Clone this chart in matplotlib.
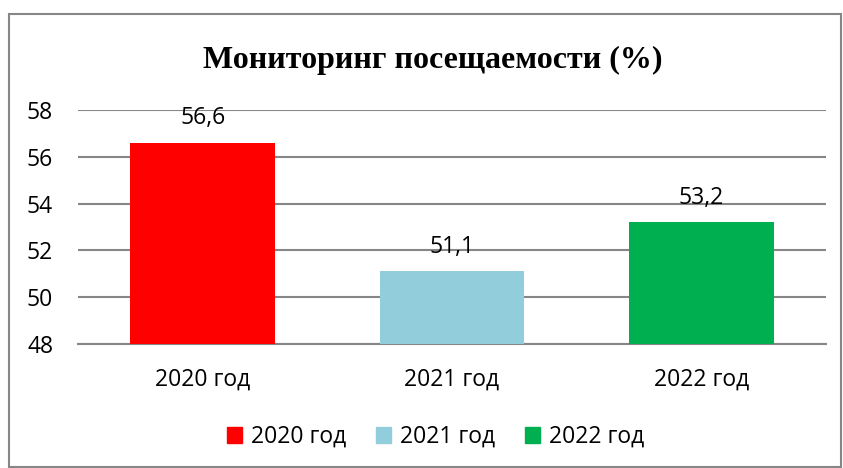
import matplotlib.pyplot as plt
from matplotlib.patches import Rectangle, Patch

# данные мониторинга посещаемости
years = ['2020 год', '2021 год', '2022 год']
values = [56.6, 51.1, 53.2]
labels = ['56,6', '51,1', '53,2']
colors = ['#FF0000', '#92CDDC', '#00B050']
yticks = [48, 50, 52, 54, 56, 58]

W, H = 843, 468
fig = plt.figure(figsize=(W / 100, H / 100), dpi=100, facecolor='w')
ax = fig.add_axes([78 / W, 1 - 344 / H, (826 - 78) / W, (344 - 110) / H])

font = 'Open Sans'
fs = 16.5

x = range(len(years))
ax.bar(x, [v - 48 for v in values], bottom=48, width=0.58, color=colors, zorder=3)
for xi, v, lab in zip(x, values, labels):
    ax.annotate(lab, (xi, v), xytext=(0, 9), textcoords='offset points',
                ha='center', va='bottom', fontsize=fs, family=font)

ax.set_xlim(-0.5, 2.5)
ax.set_ylim(48, 58)
ax.set_yticks(yticks)
ax.set_yticklabels([str(t) for t in yticks], fontsize=fs, family=font)
ax.set_xticks(list(x))
ax.set_xticklabels(years, fontsize=fs, family=font)
ax.tick_params(length=0)
ax.tick_params(axis='x', pad=17)
ax.tick_params(axis='y', pad=18)
ax.grid(axis='y', color='#868686', linewidth=1.5, zorder=0)
for s in ['top', 'right', 'left']:
    ax.spines[s].set_visible(False)
ax.spines['bottom'].set_color('#868686')
ax.spines['bottom'].set_linewidth(1.5)

fig.text(433 / W, 1 - 60 / H, 'Мониторинг посещаемости (%)', ha='center', va='center',
         fontsize=23, fontweight='bold', family='Liberation Serif')

handles = [Patch(color=c) for c in colors]
fig.legend(handles, years, loc='center', bbox_to_anchor=(436 / W, 1 - 437 / H), ncol=3,
           frameon=False, prop={'family': font, 'size': fs}, handlelength=0.65,
           handleheight=0.65, handletextpad=0.4, columnspacing=1.3)

fig.patches.append(Rectangle((9 / W, 1 - 467 / H), (841 - 9) / W, (467 - 14) / H,
                             transform=fig.transFigure, fill=False,
                             edgecolor='#868686', linewidth=1.5))

plt.savefig('out.png', dpi=100)
